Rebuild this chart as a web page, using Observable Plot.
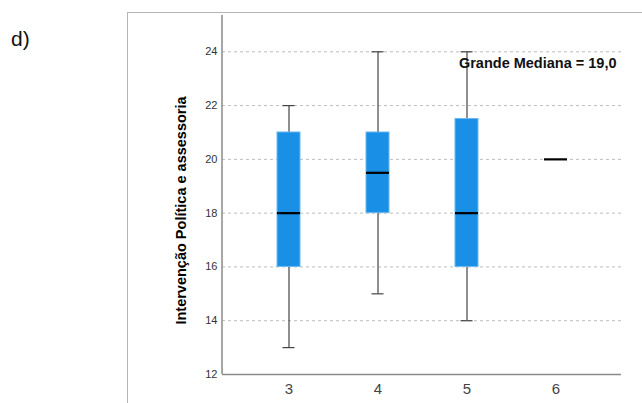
<!DOCTYPE html>
<html>
<head>
<meta charset="utf-8">
<script src="https://cdn.jsdelivr.net/npm/d3@7"></script>
<script src="https://cdn.jsdelivr.net/npm/@observablehq/plot@0.6"></script>
<style>
  html, body { margin: 0; padding: 0; background: #fff; }
  #wrap { position: relative; width: 642px; height: 403px; overflow: hidden; font-family: Arial, "Liberation Sans", sans-serif; }
  #panel { position: absolute; left: 11px; top: 27px; font-size: 21px; color: #111; }
  #frameTop { position: absolute; left: 127px; top: 12px; width: 520px; height: 0; border-top: 1.5px solid #b5b5b5; }
  #frameLeft { position: absolute; left: 127px; top: 12px; width: 0; height: 400px; border-left: 1.5px solid #b5b5b5; }
  #chart { position: absolute; left: 0; top: 0; }
</style>
</head>
<body>
<div id="wrap">
  <div id="frameTop"></div>
  <div id="frameLeft"></div>
  <div id="panel"></div>
  <div id="chart"></div>
</div>
<script>
const panelLabel = "d)";
const yLabel = "Intervenção Política e assessoria";
const annotation = "Grande Mediana = 19,0";
const groups = ["3", "4", "5", "6"];
const whiskerLow = [13, 15, 14, 20];
const q1 = [16, 18, 16, 20];
const median = [18, 19.5, 18, 20];
const q3 = [21, 21, 21.5, 20];
const whiskerHigh = [22, 24, 24, 20];
const yTicks = [12, 14, 16, 18, 20, 22, 24];
const gridTicks = [14, 16, 18, 20, 22, 24];

document.getElementById("panel").textContent = panelLabel;

const rows = groups.map((g, i) => ({
  group: g, lo: whiskerLow[i], q1: q1[i], med: median[i], q3: q3[i], hi: whiskerHigh[i]
}));
const boxes = rows.filter(d => d.q3 > d.q1);
const whiskers = rows.filter(d => d.hi > d.lo);

const font = 'Arial, "Liberation Sans", sans-serif';

const chart = Plot.plot({
  width: 642,
  height: 403,
  marginLeft: 222,
  marginRight: 21,
  marginTop: 15,
  marginBottom: 29,
  style: { fontFamily: font, fontSize: "11px", color: "#333", background: "transparent" },
  x: { type: "band", domain: groups, paddingInner: 0.745, paddingOuter: 0.6, axis: null },
  y: { domain: [12, 25.35], axis: null },
  marks: [
    Plot.ruleY(gridTicks, { stroke: "#bdbdbd", strokeDasharray: "3,3", strokeWidth: 1 }),
    Plot.ruleY([12], { stroke: "#8a8a8a", strokeWidth: 1.5 }),
    Plot.axisY({ ticks: yTicks, tickSize: 0, tickPadding: 5, fontSize: 11, label: null, fill: "#333" }),
    Plot.axisX({ tickSize: 0, tickPadding: 9, fontSize: 15, label: null, fill: "#444" }),
    Plot.ruleX(whiskers, { x: "group", y1: "lo", y2: "hi", stroke: "#444", strokeWidth: 1.2 }),
    Plot.tickY(whiskers, { x: "group", y: "lo", insetLeft: 5.5, insetRight: 5.5, stroke: "#444", strokeWidth: 1.2 }),
    Plot.tickY(whiskers, { x: "group", y: "hi", insetLeft: 5.5, insetRight: 5.5, stroke: "#444", strokeWidth: 1.2 }),
    Plot.barY(boxes, { x: "group", y1: "q1", y2: "q3", fill: "#1a8fe6", stroke: "#6cb8ef", strokeWidth: 1 }),
    Plot.tickY(rows, { x: "group", y: "med", stroke: "#000", strokeWidth: 2.2 }),
    Plot.text([annotation], { frameAnchor: "top-right", dx: -5, dy: 48, textAnchor: "end", lineAnchor: "middle", fontWeight: "bold", fontSize: 14.5, fill: "#111" }),
    Plot.text([yLabel], { frameAnchor: "left", rotate: -90, dx: -41, dy: 15.5, textAnchor: "middle", lineAnchor: "middle", fontWeight: "bold", fontSize: 14.5, fill: "#000" })
  ]
});

// y-axis line drawn from the chart's own scales
const xs = chart.scale("x"), ys = chart.scale("y");
d3.select(chart).append("line")
  .attr("x1", xs.range[0]).attr("x2", xs.range[0])
  .attr("y1", ys.range[0]).attr("y2", ys.range[1])
  .attr("stroke", "#8a8a8a").attr("stroke-width", 1.5);

document.getElementById("chart").appendChild(chart);
</script>
</body>
</html>
